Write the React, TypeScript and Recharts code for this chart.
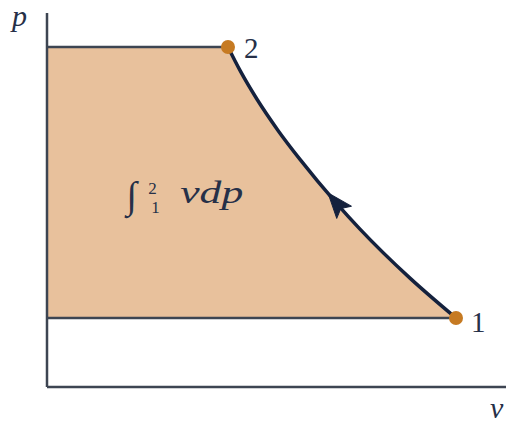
import React from "react";
import {
  ComposedChart,
  Area,
  Line,
  XAxis,
  YAxis,
  ReferenceDot,
  ReferenceLine,
} from "recharts";

// state points (v, p) in arbitrary units
const stateLabels = ["1", "2"];
const vStates = [8.911, 3.943];
const pStates = [1.845, 9.091];

// compression path 1 -> 2 (ordered by increasing v)
const vCurve = [3.943, 4.205, 4.575, 5.033, 5.512, 6.318, 6.819, 7.908, 8.911];
const pCurve = [9.091, 8.465, 7.693, 6.861, 6.086, 4.898, 4.222, 2.912, 1.845];
const arrowIndex = 5;

const axisLabels = { x: "v", y: "p" };
const integralParts = { sign: "∫", upper: "2", lower: "1", body: "vdp" };
const integralAt = { v: 1.77, p: 4.92 };

const curveData = vCurve.map((v, i) => ({ v, p: pCurve[i] }));
const areaData = [{ v: 0, p: pStates[1] }, ...curveData];
const p2Line = [
  { v: 0, p: pStates[1] },
  { v: vStates[1], p: pStates[1] },
];
const p1Line = [
  { v: 0, p: pStates[0] },
  { v: vStates[0], p: pStates[0] },
];

const FILL = "#E8C19C";
const INK = "#263048";
const CURVE = "#14213d";
const LINE = "#3d4552";
const DOT = "#C67A22";
const SERIF = "'Liberation Serif', 'DejaVu Serif', serif";

const ArrowDot = (props: any) => {
  const { cx, cy, index, points } = props;
  if (index !== arrowIndex || cx == null) return <g key={`d-${index}`} />;
  let ang = Math.atan2(-1.2, -1);
  if (points && points[index - 1]) {
    const prev = points[index - 1];
    ang = Math.atan2(prev.y - cy, prev.x - cx);
  }
  const deg = (ang * 180) / Math.PI;
  return (
    <path
      key={`d-${index}`}
      d="M 14 0 L -11 -9.5 L -6 0 L -11 9.5 Z"
      fill={CURVE}
      stroke={CURVE}
      strokeWidth={1}
      strokeLinejoin="round"
      transform={`translate(${cx},${cy}) rotate(${deg})`}
    />
  );
};

const textShape = (
  txt: string,
  dx: number,
  dy: number,
  size: number,
  italic: boolean
) => (props: any) => (
  <text
    x={props.cx + dx}
    y={props.cy + dy}
    fontSize={size}
    fontFamily={SERIF}
    fontStyle={italic ? "italic" : "normal"}
    fill={INK}
  >
    {txt}
  </text>
);

const IntegralShape = (props: any) => {
  const { cx, cy } = props;
  return (
    <g fill={INK}>
      <text
        x={cx - 2}
        y={cy + 5}
        fontSize={38}
        fontFamily={SERIF}
        fontStyle="italic"
      >
        {integralParts.sign}
      </text>
      <text x={cx + 20} y={cy - 9} fontSize={17} fontFamily={SERIF}>
        {integralParts.upper}
      </text>
      <text x={cx + 23} y={cy + 10} fontSize={17} fontFamily={SERIF}>
        {integralParts.lower}
      </text>
      <text
        x={cx + 52}
        y={cy}
        fontSize={31}
        fontFamily={SERIF}
        fontStyle="italic"
        textLength={63}
        lengthAdjust="spacingAndGlyphs"
      >
        {integralParts.body}
      </text>
    </g>
  );
};

export default function App() {
  return (
    <div
      style={{
        position: "absolute",
        left: 0,
        top: 0,
        width: 506,
        height: 423,
        background: "#ffffff",
      }}
    >
      <ComposedChart
        width={506}
        height={423}
        margin={{ top: 13, right: 0, bottom: 36, left: 47 }}
      >
        <XAxis
          type="number"
          dataKey="v"
          domain={[0, 10]}
          allowDataOverflow
          hide
        />
        <YAxis
          type="number"
          dataKey="p"
          domain={[0, 10]}
          allowDataOverflow
          hide
        />
        <Area
          data={areaData}
          dataKey="p"
          type="monotone"
          baseValue={pStates[0]}
          fill={FILL}
          fillOpacity={1}
          stroke="none"
          isAnimationActive={false}
        />
        <ReferenceLine x={0} stroke={LINE} strokeWidth={2.5} ifOverflow="visible" />
        <ReferenceLine y={0} stroke={LINE} strokeWidth={2.5} ifOverflow="visible" />
        <Line
          data={p2Line}
          dataKey="p"
          type="linear"
          stroke={LINE}
          strokeWidth={2.5}
          dot={false}
          activeDot={false}
          isAnimationActive={false}
        />
        <Line
          data={p1Line}
          dataKey="p"
          type="linear"
          stroke={LINE}
          strokeWidth={2.5}
          dot={false}
          activeDot={false}
          isAnimationActive={false}
        />
        <Line
          data={curveData}
          dataKey="p"
          type="monotone"
          stroke={CURVE}
          strokeWidth={3.5}
          dot={ArrowDot}
          activeDot={false}
          isAnimationActive={false}
        />
        {vStates.map((v, i) => (
          <ReferenceDot
            key={`s-${i}`}
            x={v}
            y={pStates[i]}
            r={7}
            fill={DOT}
            stroke="none"
          />
        ))}
        <ReferenceDot
          x={vStates[0]}
          y={pStates[0]}
          shape={textShape(stateLabels[0], 15, 14, 29, false)}
        />
        <ReferenceDot
          x={vStates[1]}
          y={pStates[1]}
          shape={textShape(stateLabels[1], 16, 11, 29, false)}
        />
        <ReferenceDot
          x={0}
          y={10}
          shape={textShape(axisLabels.y, -35, 13, 30, true)}
        />
        <ReferenceDot
          x={10}
          y={0}
          shape={textShape(axisLabels.x, -16, 31, 30, true)}
        />
        <ReferenceDot
          x={integralAt.v}
          y={integralAt.p}
          shape={IntegralShape}
        />
      </ComposedChart>
    </div>
  );
}
